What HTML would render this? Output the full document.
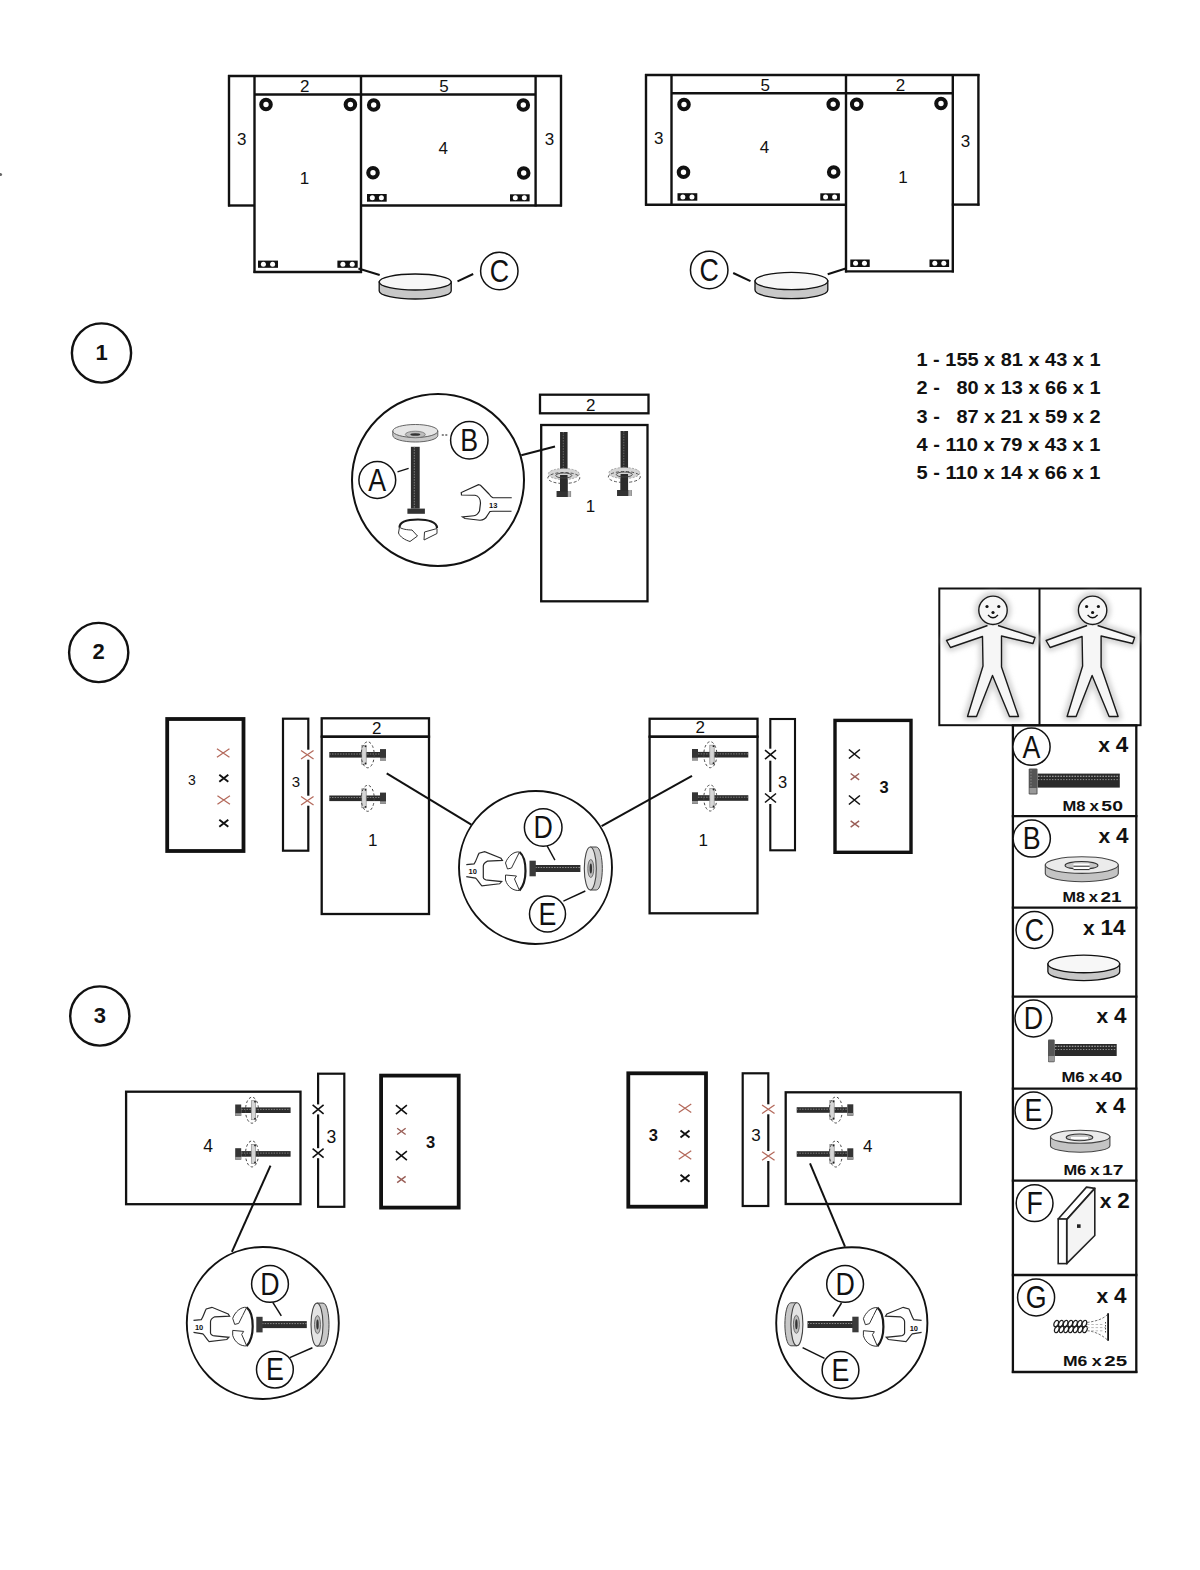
<!DOCTYPE html><html><head><meta charset="utf-8"><style>
html,body{margin:0;padding:0;background:#fff;}
svg{display:block;font-family:"Liberation Sans",sans-serif;}
</style></head><body>
<svg width="1200" height="1570" viewBox="0 0 1200 1570">
<defs><filter id="blur2" x="-20%" y="-20%" width="140%" height="140%"><feGaussianBlur stdDeviation="2.6"/></filter></defs>
<rect width="1200" height="1570" fill="#fff"/>
<circle cx="0.5" cy="174.5" r="1.6" fill="#666"/>
<line x1="228" y1="76" x2="562" y2="76" stroke="#111" stroke-width="2.4" />
<line x1="229" y1="75" x2="229" y2="206.5" stroke="#111" stroke-width="2.4" />
<line x1="228" y1="205.5" x2="255" y2="205.5" stroke="#111" stroke-width="2.4" />
<line x1="254.5" y1="75" x2="254.5" y2="273" stroke="#111" stroke-width="2.4" />
<line x1="254.5" y1="94.5" x2="535.6" y2="94.5" stroke="#111" stroke-width="2.4" />
<line x1="361" y1="75" x2="361" y2="273" stroke="#111" stroke-width="2.4" />
<line x1="253.5" y1="272" x2="362" y2="272" stroke="#111" stroke-width="2.4" />
<line x1="360" y1="205.5" x2="562" y2="205.5" stroke="#111" stroke-width="2.4" />
<line x1="535.6" y1="75" x2="535.6" y2="206.5" stroke="#111" stroke-width="2.4" />
<line x1="561" y1="75" x2="561" y2="206.5" stroke="#111" stroke-width="2.4" />
<text x="241.7" y="144.5" font-size="17" font-weight="normal" text-anchor="middle" fill="#111" >3</text>
<text x="304.7" y="91.5" font-size="17" font-weight="normal" text-anchor="middle" fill="#111" >2</text>
<text x="304.4" y="184" font-size="17" font-weight="normal" text-anchor="middle" fill="#111" >1</text>
<text x="444" y="92" font-size="17" font-weight="normal" text-anchor="middle" fill="#111" >5</text>
<text x="443.3" y="154" font-size="17" font-weight="normal" text-anchor="middle" fill="#111" >4</text>
<text x="549.4" y="145" font-size="17" font-weight="normal" text-anchor="middle" fill="#111" >3</text>
<circle cx="266" cy="104.5" r="4.75" stroke="#111" stroke-width="4.1" fill="#fff"/>
<circle cx="350.4" cy="104.5" r="4.75" stroke="#111" stroke-width="4.1" fill="#fff"/>
<circle cx="373.7" cy="105" r="4.75" stroke="#111" stroke-width="4.1" fill="#fff"/>
<circle cx="373" cy="172.7" r="4.75" stroke="#111" stroke-width="4.1" fill="#fff"/>
<circle cx="523.3" cy="105" r="4.75" stroke="#111" stroke-width="4.1" fill="#fff"/>
<circle cx="523.7" cy="173" r="4.75" stroke="#111" stroke-width="4.1" fill="#fff"/>
<rect x="367" y="194" width="19.70" height="7.70" fill="#111"/>
<circle cx="372.32" cy="197.85" r="2.5" fill="#fff"/>
<circle cx="381.38" cy="197.85" r="2.5" fill="#fff"/>
<rect x="510" y="194.3" width="19.60" height="7.10" fill="#111"/>
<circle cx="515.29" cy="197.85" r="2.5" fill="#fff"/>
<circle cx="524.31" cy="197.85" r="2.5" fill="#fff"/>
<rect x="258" y="260.6" width="20.00" height="7.20" fill="#111"/>
<circle cx="263.40" cy="264.20" r="2.5" fill="#fff"/>
<circle cx="272.60" cy="264.20" r="2.5" fill="#fff"/>
<rect x="337.4" y="260.6" width="20.30" height="7.20" fill="#111"/>
<circle cx="342.88" cy="264.20" r="2.5" fill="#fff"/>
<circle cx="352.22" cy="264.20" r="2.5" fill="#fff"/>
<path d="M379.2,282 L379.2,291 A36,8 0 0 0 451.2,291 L451.2,282 Z" fill="#c8c8c8" stroke="#111" stroke-width="1.3"/>
<ellipse cx="415.2" cy="282" rx="36" ry="8" fill="#f7f7f7" stroke="#111" stroke-width="1.3"/>
<line x1="358.4" y1="268.5" x2="379.7" y2="275" stroke="#111" stroke-width="2" />
<line x1="457.5" y1="281.3" x2="473.2" y2="274" stroke="#111" stroke-width="2" />
<circle cx="499.3" cy="271" r="18.7" stroke="#111" stroke-width="1.5" fill="#fff"/>
<text transform="translate(499.3,281.87) scale(0.85,1)" font-size="31.5" text-anchor="middle" fill="#111">C</text>
<line x1="645" y1="75" x2="979.5" y2="75" stroke="#111" stroke-width="2.4" />
<line x1="646" y1="74" x2="646" y2="205.7" stroke="#111" stroke-width="2.4" />
<line x1="645" y1="204.7" x2="847" y2="204.7" stroke="#111" stroke-width="2.4" />
<line x1="671.5" y1="74" x2="671.5" y2="205.7" stroke="#111" stroke-width="2.4" />
<line x1="671.5" y1="93.3" x2="952.8" y2="93.3" stroke="#111" stroke-width="2.4" />
<line x1="846" y1="74" x2="846" y2="272.5" stroke="#111" stroke-width="2.4" />
<line x1="952.8" y1="74" x2="952.8" y2="272.5" stroke="#111" stroke-width="2.4" />
<line x1="845" y1="271.4" x2="954" y2="271.4" stroke="#111" stroke-width="2.4" />
<line x1="978.4" y1="74" x2="978.4" y2="205.7" stroke="#111" stroke-width="2.4" />
<line x1="951.8" y1="204.6" x2="979.5" y2="204.6" stroke="#111" stroke-width="2.4" />
<text x="658.7" y="144" font-size="17" font-weight="normal" text-anchor="middle" fill="#111" >3</text>
<text x="765.2" y="90.7" font-size="17" font-weight="normal" text-anchor="middle" fill="#111" >5</text>
<text x="764.5" y="153" font-size="17" font-weight="normal" text-anchor="middle" fill="#111" >4</text>
<text x="900.5" y="91.3" font-size="17" font-weight="normal" text-anchor="middle" fill="#111" >2</text>
<text x="903" y="183" font-size="17" font-weight="normal" text-anchor="middle" fill="#111" >1</text>
<text x="965.5" y="146.7" font-size="17" font-weight="normal" text-anchor="middle" fill="#111" >3</text>
<circle cx="684" cy="104.5" r="4.75" stroke="#111" stroke-width="4.1" fill="#fff"/>
<circle cx="683.5" cy="172.2" r="4.75" stroke="#111" stroke-width="4.1" fill="#fff"/>
<circle cx="833.2" cy="104.3" r="4.75" stroke="#111" stroke-width="4.1" fill="#fff"/>
<circle cx="833.7" cy="172" r="4.75" stroke="#111" stroke-width="4.1" fill="#fff"/>
<circle cx="856.7" cy="104.3" r="4.75" stroke="#111" stroke-width="4.1" fill="#fff"/>
<circle cx="941" cy="103.5" r="4.75" stroke="#111" stroke-width="4.1" fill="#fff"/>
<rect x="677.5" y="193.2" width="19.80" height="7.50" fill="#111"/>
<circle cx="682.85" cy="196.95" r="2.5" fill="#fff"/>
<circle cx="691.95" cy="196.95" r="2.5" fill="#fff"/>
<rect x="820.3" y="193.3" width="19.60" height="7.30" fill="#111"/>
<circle cx="825.59" cy="196.95" r="2.5" fill="#fff"/>
<circle cx="834.61" cy="196.95" r="2.5" fill="#fff"/>
<rect x="850.3" y="259.5" width="19.40" height="7.50" fill="#111"/>
<circle cx="855.54" cy="263.25" r="2.5" fill="#fff"/>
<circle cx="864.46" cy="263.25" r="2.5" fill="#fff"/>
<rect x="929.5" y="259.5" width="19.60" height="7.50" fill="#111"/>
<circle cx="934.79" cy="263.25" r="2.5" fill="#fff"/>
<circle cx="943.81" cy="263.25" r="2.5" fill="#fff"/>
<path d="M755.0,281 L755.0,290 A36.4,8.6 0 0 0 827.8,290 L827.8,281 Z" fill="#c8c8c8" stroke="#111" stroke-width="1.3"/>
<ellipse cx="791.4" cy="281" rx="36.4" ry="8.6" fill="#f7f7f7" stroke="#111" stroke-width="1.3"/>
<line x1="733.2" y1="273" x2="750.5" y2="281.2" stroke="#111" stroke-width="2" />
<line x1="827.7" y1="274.2" x2="845.7" y2="268.5" stroke="#111" stroke-width="2" />
<circle cx="709.2" cy="270" r="18.75" stroke="#111" stroke-width="1.5" fill="#fff"/>
<text transform="translate(709.2,280.87) scale(0.85,1)" font-size="31.5" text-anchor="middle" fill="#111">C</text>
<circle cx="101.5" cy="353" r="29.6" stroke="#111" stroke-width="2.4" fill="#fff"/>
<text x="101.5" y="359.8" font-size="22" font-weight="bold" text-anchor="middle" fill="#111" >1</text>
<circle cx="98.7" cy="652.5" r="29.6" stroke="#111" stroke-width="2.4" fill="#fff"/>
<text x="98.7" y="659.3" font-size="22" font-weight="bold" text-anchor="middle" fill="#111" >2</text>
<circle cx="99.8" cy="1016" r="29.6" stroke="#111" stroke-width="2.4" fill="#fff"/>
<text x="99.8" y="1022.8" font-size="22" font-weight="bold" text-anchor="middle" fill="#111" >3</text>
<text x="916.5" y="365.7" font-size="17.5" font-weight="bold" fill="#111" xml:space="preserve" textLength="184" lengthAdjust="spacingAndGlyphs">1 - 155 x 81 x 43 x 1</text>
<text x="916.5" y="394.1" font-size="17.5" font-weight="bold" fill="#111" xml:space="preserve" textLength="184" lengthAdjust="spacingAndGlyphs">2 -   80 x 13 x 66 x 1</text>
<text x="916.5" y="422.5" font-size="17.5" font-weight="bold" fill="#111" xml:space="preserve" textLength="184" lengthAdjust="spacingAndGlyphs">3 -   87 x 21 x 59 x 2</text>
<text x="916.5" y="450.9" font-size="17.5" font-weight="bold" fill="#111" xml:space="preserve" textLength="184" lengthAdjust="spacingAndGlyphs">4 - 110 x 79 x 43 x 1</text>
<text x="916.5" y="479.3" font-size="17.5" font-weight="bold" fill="#111" xml:space="preserve" textLength="184" lengthAdjust="spacingAndGlyphs">5 - 110 x 14 x 66 x 1</text>
<circle cx="438" cy="480" r="86" stroke="#111" stroke-width="2" fill="#fff"/>
<rect x="540" y="394.7" width="108.50" height="18.60" stroke="#111" stroke-width="2.3" fill="none"/>
<rect x="541.2" y="425" width="106.30" height="176.30" stroke="#111" stroke-width="2.3" fill="none"/>
<text x="590.7" y="410.8" font-size="17" font-weight="normal" text-anchor="middle" fill="#111" >2</text>
<text x="590.5" y="511.5" font-size="17" font-weight="normal" text-anchor="middle" fill="#111" >1</text>
<line x1="521.3" y1="455.2" x2="555" y2="446.5" stroke="#111" stroke-width="2" />
<rect x="560.05" y="432" width="7.5" height="64.5" fill="#2b2b2b"/>
<line x1="563.3" y1="432" x2="563.3" y2="496.5" stroke="#777" stroke-width="0.8" stroke-dasharray="1.5 1.2"/>
<rect x="556.55" y="491.0" width="14.5" height="6" fill="#333"/>
<rect x="567.8" y="491.0" width="3" height="6" fill="#aaa"/>
<ellipse cx="563.8" cy="474" rx="15.5" ry="5.5" fill="#d5d5d5" stroke="#888" stroke-width="0.7" stroke-dasharray="2 1.5"/>
<ellipse cx="563.8" cy="478" rx="16" ry="5.5" fill="none" stroke="#444" stroke-width="0.9" stroke-dasharray="3 2"/>
<rect x="560.05" y="475" width="7.5" height="16.5" fill="#2b2b2b"/>
<ellipse cx="563.8" cy="475.5" rx="8" ry="2.5" fill="none" stroke="#444" stroke-width="0.9"/>
<rect x="620.55" y="431" width="7.5" height="64.5" fill="#2b2b2b"/>
<line x1="623.8" y1="431" x2="623.8" y2="495.5" stroke="#777" stroke-width="0.8" stroke-dasharray="1.5 1.2"/>
<rect x="617.05" y="490.0" width="14.5" height="6" fill="#333"/>
<rect x="628.3" y="490.0" width="3" height="6" fill="#aaa"/>
<ellipse cx="624.3" cy="473" rx="15.5" ry="5.5" fill="#d5d5d5" stroke="#888" stroke-width="0.7" stroke-dasharray="2 1.5"/>
<ellipse cx="624.3" cy="477" rx="16" ry="5.5" fill="none" stroke="#444" stroke-width="0.9" stroke-dasharray="3 2"/>
<rect x="620.55" y="474" width="7.5" height="16.5" fill="#2b2b2b"/>
<ellipse cx="624.3" cy="474.5" rx="8" ry="2.5" fill="none" stroke="#444" stroke-width="0.9"/>
<path d="M392.8,431 L392.8,435.5 A22.5,6.5 0 0 0 437.8,435.5 L437.8,431 Z" fill="#c9c9c9" stroke="#555" stroke-width="0.9"/>
<ellipse cx="415.3" cy="431" rx="22.5" ry="6.5" fill="#e6e6e6" stroke="#555" stroke-width="0.9"/>
<ellipse cx="415.3" cy="434.5" rx="10" ry="3.3" fill="#bdbdbd" stroke="#666" stroke-width="0.7"/>
<ellipse cx="415.3" cy="434.5" rx="5" ry="1.3" fill="#333"/>
<line x1="441.8" y1="435" x2="448.8" y2="435" stroke="#111" stroke-width="1.2" stroke-dasharray="2 1.5"/>
<circle cx="469.3" cy="440.3" r="18.7" stroke="#111" stroke-width="1.5" fill="#fff"/>
<text transform="translate(469.3,451.17) scale(0.85,1)" font-size="31.5" text-anchor="middle" fill="#111">B</text>
<rect x="410.9" y="446.8" width="8.8" height="61.8" fill="#2e2e2e"/>
<line x1="414.3" y1="446.8" x2="414.3" y2="508.6" stroke="#888" stroke-width="0.9" stroke-dasharray="1.5 1.2"/>
<rect x="407.4" y="508.6" width="17.5" height="5.2" fill="#333"/>
<circle cx="377.3" cy="480" r="18.4" stroke="#111" stroke-width="1.5" fill="#fff"/>
<text transform="translate(377.3,490.87) scale(0.85,1)" font-size="31.5" text-anchor="middle" fill="#111">A</text>
<line x1="397.5" y1="471.8" x2="408.6" y2="468.3" stroke="#111" stroke-width="1.3" />
<path d="M399.5,527.5 C399.5,521 409,519.5 418,519.5 C428,519.5 437,522 437,528" fill="none" stroke="#1a1a1a" stroke-width="2.2"/>
<path d="M399.5,527 L398.5,533 C400,537 405,540 410,541.5 L417.5,536 L412,530 C407,530 402,529 400,527.5" fill="#fff" stroke="#333" stroke-width="1"/>
<path d="M424.5,532 L437,528.5 L437,533.5 L424,540 Z" fill="#fff" stroke="#333" stroke-width="1"/>
<path transform="translate(0,0)" d="M511.75,497.75 L493,497.75 C491,497 490,495.5 489,494 L480.5,485.25 L478.5,484.75 L461.25,492.5 L461.5,495 L475,495.25 C479,496 480.5,500 480.5,503 L479.5,511 C478,514 476,515.5 474,515.75 L462.5,517 L465,518.5 L480,520.25 C484,520 486,518 487,516 L490,511.5 C491,511.3 492,511.25 493,511.25 L511.5,511.25" fill="none" stroke="#222" stroke-width="1.2"/>
<text x="493.2" y="507.6" font-size="7.5" font-weight="bold" text-anchor="middle" fill="#111" >13</text>
<rect x="939.3" y="588.5" width="201.30" height="136.70" stroke="#111" stroke-width="2" fill="none"/>
<line x1="1039.5" y1="588.5" x2="1039.5" y2="725.2" stroke="#111" stroke-width="2" />
<g filter="url(#blur2)"><path d="M987.5,625.5 L946.5,640.5 L950.5,647.5 L982.5,636.5 L983.0,666.0 L967.5,716.5 L976.5,716.5 L992.5,675.5 L1009.5,716.5 L1018.5,716.5 L1001.5,667.0 L1001.5,636.0 L1033.0,643.5 L1035.0,637.5 L998.0,625.5" fill="none" stroke="#d4d4d4" stroke-width="8" stroke-linejoin="round"/><circle cx="993" cy="610.3" r="14.2" fill="none" stroke="#d4d4d4" stroke-width="8"/></g>
<path d="M987.5,625.5 L946.5,640.5 L950.5,647.5 L982.5,636.5 L983.0,666.0 L967.5,716.5 L976.5,716.5 L992.5,675.5 L1009.5,716.5 L1018.5,716.5 L1001.5,667.0 L1001.5,636.0 L1033.0,643.5 L1035.0,637.5 L998.0,625.5" fill="#f6f6f6" stroke="#1a1a1a" stroke-width="1.4" stroke-linejoin="round"/>
<circle cx="993" cy="610.3" r="14.2" fill="#f6f6f6" stroke="#1a1a1a" stroke-width="1.4"/>
<circle cx="987" cy="606.5" r="1.6" fill="#111"/><circle cx="998.8" cy="606.5" r="1.6" fill="#111"/><circle cx="993" cy="612.5" r="1.6" fill="#111"/>
<path d="M988,615 Q993,620.5 998,615" fill="none" stroke="#111" stroke-width="1.3"/>
<g filter="url(#blur2)"><path d="M1087.1,625.5 L1046.1,640.5 L1050.1,647.5 L1082.1,636.5 L1082.6,666.0 L1067.1,716.5 L1076.1,716.5 L1092.1,675.5 L1109.1,716.5 L1118.1,716.5 L1101.1,667.0 L1101.1,636.0 L1132.6,643.5 L1134.6,637.5 L1097.6,625.5" fill="none" stroke="#d4d4d4" stroke-width="8" stroke-linejoin="round"/><circle cx="1092.6" cy="610.3" r="14.2" fill="none" stroke="#d4d4d4" stroke-width="8"/></g>
<path d="M1087.1,625.5 L1046.1,640.5 L1050.1,647.5 L1082.1,636.5 L1082.6,666.0 L1067.1,716.5 L1076.1,716.5 L1092.1,675.5 L1109.1,716.5 L1118.1,716.5 L1101.1,667.0 L1101.1,636.0 L1132.6,643.5 L1134.6,637.5 L1097.6,625.5" fill="#f6f6f6" stroke="#1a1a1a" stroke-width="1.4" stroke-linejoin="round"/>
<circle cx="1092.6" cy="610.3" r="14.2" fill="#f6f6f6" stroke="#1a1a1a" stroke-width="1.4"/>
<circle cx="1086.6" cy="606.5" r="1.6" fill="#111"/><circle cx="1098.3999999999999" cy="606.5" r="1.6" fill="#111"/><circle cx="1092.6" cy="612.5" r="1.6" fill="#111"/>
<path d="M1087.6,615 Q1092.6,620.5 1097.6,615" fill="none" stroke="#111" stroke-width="1.3"/>
<line x1="1011.8" y1="725.4" x2="1137.3999999999999" y2="725.4" stroke="#111" stroke-width="2.3" />
<line x1="1011.8" y1="816.2" x2="1137.3999999999999" y2="816.2" stroke="#111" stroke-width="2.3" />
<line x1="1011.8" y1="907.6" x2="1137.3999999999999" y2="907.6" stroke="#111" stroke-width="2.3" />
<line x1="1011.8" y1="996.7" x2="1137.3999999999999" y2="996.7" stroke="#111" stroke-width="2.3" />
<line x1="1011.8" y1="1088.6" x2="1137.3999999999999" y2="1088.6" stroke="#111" stroke-width="2.3" />
<line x1="1011.8" y1="1180.7" x2="1137.3999999999999" y2="1180.7" stroke="#111" stroke-width="2.3" />
<line x1="1011.8" y1="1275" x2="1137.3999999999999" y2="1275" stroke="#111" stroke-width="2.3" />
<line x1="1011.8" y1="1372" x2="1137.3999999999999" y2="1372" stroke="#111" stroke-width="2.3" />
<line x1="1012.9" y1="725" x2="1012.9" y2="1373" stroke="#111" stroke-width="2.3" />
<line x1="1136.3" y1="725" x2="1136.3" y2="1373" stroke="#111" stroke-width="2.3" />
<circle cx="1031.5" cy="746.7" r="18.6" stroke="#111" stroke-width="1.5" fill="#fff"/>
<text transform="translate(1031.5,757.57) scale(0.85,1)" font-size="31.5" text-anchor="middle" fill="#111">A</text>
<text x="1128.2" y="752.2" font-weight="bold" text-anchor="end" fill="#111" xml:space="preserve"><tspan font-size="21">x </tspan><tspan font-size="22.5">4</tspan></text>
<rect x="1037.5" y="773.6" width="82.3" height="14" fill="#2a2a2a"/>
<line x1="1038" y1="776.3" x2="1119.5" y2="776.3" stroke="#bbb" stroke-width="1.1" stroke-dasharray="1.6 1.2"/>
<line x1="1038" y1="779.6" x2="1119.5" y2="779.6" stroke="#999" stroke-width="0.9" stroke-dasharray="1.4 1.4"/>
<rect x="1028.7" y="768.4" width="8.8" height="26" rx="1.2" fill="#555"/>
<rect x="1029.5" y="788" width="7" height="5.5" fill="#999"/>
<line x1="1031" y1="770" x2="1031" y2="787" stroke="#888" stroke-width="1" stroke-dasharray="1.5 1.5"/>
<text x="1062.40" y="810.6" font-size="14" font-weight="bold" fill="#111" textLength="23.02" lengthAdjust="spacingAndGlyphs">M8</text>
<text x="1089.48" y="810.6" font-size="14" font-weight="bold" fill="#111" textLength="9.42" lengthAdjust="spacingAndGlyphs">x</text>
<text x="1101.36" y="810.6" font-size="14" font-weight="bold" fill="#111" textLength="21.54" lengthAdjust="spacingAndGlyphs">50</text>
<circle cx="1031.75" cy="838.5" r="18.6" stroke="#111" stroke-width="1.5" fill="#fff"/>
<text transform="translate(1031.75,849.37) scale(0.85,1)" font-size="31.5" text-anchor="middle" fill="#111">B</text>
<text x="1128.6" y="843.3" font-weight="bold" text-anchor="end" fill="#111" xml:space="preserve"><tspan font-size="21">x </tspan><tspan font-size="22.5">4</tspan></text>
<path d="M1045.3,865.1 L1045.3,873.4 A36.5,8.3 0 0 0 1118.3,873.4 L1118.3,865.1 Z" fill="#c4c4c4" stroke="#444" stroke-width="1.1"/>
<ellipse cx="1081.8" cy="865.1" rx="36.5" ry="8.3" fill="#ebebeb" stroke="#444" stroke-width="1.1"/>
<ellipse cx="1081.5" cy="865.4" rx="16.4" ry="3.9" fill="#c6c6c6" stroke="#333" stroke-width="1.1"/>
<rect x="1073.5" y="863.5" width="16" height="6.5" fill="#fff"/>
<line x1="1073.5" y1="866.2" x2="1089.6" y2="866.2" stroke="#222" stroke-width="1"/><line x1="1073.5" y1="869.6" x2="1089.6" y2="869.6" stroke="#222" stroke-width="1"/>
<text x="1062.40" y="901.6" font-size="14" font-weight="bold" fill="#111" textLength="22.54" lengthAdjust="spacingAndGlyphs">M8</text>
<text x="1088.89" y="901.6" font-size="14" font-weight="bold" fill="#111" textLength="9.24" lengthAdjust="spacingAndGlyphs">x</text>
<text x="1100.51" y="901.6" font-size="14" font-weight="bold" fill="#111" textLength="21.09" lengthAdjust="spacingAndGlyphs">21</text>
<circle cx="1034.4" cy="930" r="18.4" stroke="#111" stroke-width="1.5" fill="#fff"/>
<text transform="translate(1034.4,940.87) scale(0.85,1)" font-size="31.5" text-anchor="middle" fill="#111">C</text>
<text x="1125.6" y="935.2" font-weight="bold" text-anchor="end" fill="#111" xml:space="preserve"><tspan font-size="21">x </tspan><tspan font-size="22.5">14</tspan></text>
<path d="M1047.8999999999999,963.9 L1047.8999999999999,971.6999999999999 A35.9,8.85 0 0 0 1119.7,971.6999999999999 L1119.7,963.9 Z" fill="#c8c8c8" stroke="#111" stroke-width="1.3"/>
<ellipse cx="1083.8" cy="963.9" rx="35.9" ry="8.85" fill="#f7f7f7" stroke="#111" stroke-width="1.3"/>
<circle cx="1033.5" cy="1018.5" r="18.5" stroke="#111" stroke-width="1.5" fill="#fff"/>
<text transform="translate(1033.5,1029.37) scale(0.85,1)" font-size="31.5" text-anchor="middle" fill="#111">D</text>
<text x="1126.6" y="1023.25" font-weight="bold" text-anchor="end" fill="#111" xml:space="preserve"><tspan font-size="21">x </tspan><tspan font-size="22.5">4</tspan></text>
<rect x="1054.5" y="1044" width="62.2" height="12" fill="#2a2a2a"/>
<line x1="1055" y1="1046.3" x2="1116.5" y2="1046.3" stroke="#bbb" stroke-width="1.1" stroke-dasharray="1.6 1.2"/>
<line x1="1055" y1="1049.5" x2="1116.5" y2="1049.5" stroke="#999" stroke-width="0.9" stroke-dasharray="1.4 1.4"/>
<rect x="1048" y="1039.4" width="6.7" height="22.9" rx="1" fill="#555"/>
<rect x="1048.5" y="1056" width="5.8" height="5.5" fill="#999"/>
<text x="1061.40" y="1082.1" font-size="14" font-weight="bold" fill="#111" textLength="23.24" lengthAdjust="spacingAndGlyphs">M6</text>
<text x="1088.75" y="1082.1" font-size="14" font-weight="bold" fill="#111" textLength="9.51" lengthAdjust="spacingAndGlyphs">x</text>
<text x="1100.75" y="1082.1" font-size="14" font-weight="bold" fill="#111" textLength="21.75" lengthAdjust="spacingAndGlyphs">40</text>
<circle cx="1033.5" cy="1110.5" r="18.5" stroke="#111" stroke-width="1.5" fill="#fff"/>
<text transform="translate(1033.5,1121.37) scale(0.85,1)" font-size="31.5" text-anchor="middle" fill="#111">E</text>
<text x="1125.5" y="1113.1" font-weight="bold" text-anchor="end" fill="#111" xml:space="preserve"><tspan font-size="21">x </tspan><tspan font-size="22.5">4</tspan></text>
<path d="M1050.5,1136.8 L1050.5,1145.7 A29.7,6.5 0 0 0 1109.9,1145.7 L1109.9,1136.8 Z" fill="#c4c4c4" stroke="#444" stroke-width="1.1"/>
<ellipse cx="1080.2" cy="1136.8" rx="29.7" ry="6.5" fill="#ebebeb" stroke="#444" stroke-width="1.1"/>
<ellipse cx="1079.5" cy="1137.4" rx="13.3" ry="3.4" fill="#c6c6c6" stroke="#333" stroke-width="1.1"/>
<rect x="1071" y="1137" width="17" height="2" fill="#fff"/>
<text x="1063.40" y="1175.1" font-size="14" font-weight="bold" fill="#111" textLength="22.88" lengthAdjust="spacingAndGlyphs">M6</text>
<text x="1090.30" y="1175.1" font-size="14" font-weight="bold" fill="#111" textLength="9.36" lengthAdjust="spacingAndGlyphs">x</text>
<text x="1102.10" y="1175.1" font-size="14" font-weight="bold" fill="#111" textLength="21.40" lengthAdjust="spacingAndGlyphs">17</text>
<circle cx="1034.6" cy="1203.2" r="18.4" stroke="#111" stroke-width="1.5" fill="#fff"/>
<text transform="translate(1034.6,1214.07) scale(0.85,1)" font-size="31.5" text-anchor="middle" fill="#111">F</text>
<text x="1129.8" y="1208.1" font-weight="bold" text-anchor="end" fill="#111" xml:space="preserve"><tspan font-size="21">x </tspan><tspan font-size="22.5">2</tspan></text>
<path d="M1058.2,1219 L1086.5,1187.1 L1094.8,1188.4 L1066.7,1219.6 Z" fill="#fff" stroke="#222" stroke-width="1.6" stroke-linejoin="round"/>
<path d="M1066.7,1219.6 L1094.8,1188.4 L1094.8,1235.5 L1066.7,1263.6 Z" fill="#f4f4f4" stroke="#222" stroke-width="1.6" stroke-linejoin="round"/>
<rect x="1058.2" y="1219" width="8.5" height="44.6" fill="#fff" stroke="#222" stroke-width="1.6"/>
<rect x="1077" y="1224.3" width="3.6" height="3.6" fill="#222"/>
<circle cx="1036.1" cy="1297.4" r="18.5" stroke="#111" stroke-width="1.5" fill="#fff"/>
<text transform="translate(1036.1,1308.27) scale(0.85,1)" font-size="31.5" text-anchor="middle" fill="#111">G</text>
<text x="1126.6" y="1302.5" font-weight="bold" text-anchor="end" fill="#111" xml:space="preserve"><tspan font-size="21">x </tspan><tspan font-size="22.5">4</tspan></text>
<ellipse transform="translate(1056.20,1323.6) rotate(25)" cx="0" cy="0" rx="2.1" ry="3.4" fill="none" stroke="#1e1e1e" stroke-width="1.3"/>
<ellipse transform="translate(1060.90,1323.6) rotate(25)" cx="0" cy="0" rx="2.1" ry="3.4" fill="none" stroke="#1e1e1e" stroke-width="1.3"/>
<ellipse transform="translate(1065.60,1323.6) rotate(25)" cx="0" cy="0" rx="2.1" ry="3.4" fill="none" stroke="#1e1e1e" stroke-width="1.3"/>
<ellipse transform="translate(1070.30,1323.6) rotate(25)" cx="0" cy="0" rx="2.1" ry="3.4" fill="none" stroke="#1e1e1e" stroke-width="1.3"/>
<ellipse transform="translate(1075.00,1323.6) rotate(25)" cx="0" cy="0" rx="2.1" ry="3.4" fill="none" stroke="#1e1e1e" stroke-width="1.3"/>
<ellipse transform="translate(1079.70,1323.6) rotate(25)" cx="0" cy="0" rx="2.1" ry="3.4" fill="none" stroke="#1e1e1e" stroke-width="1.3"/>
<ellipse transform="translate(1084.40,1323.6) rotate(25)" cx="0" cy="0" rx="2.1" ry="3.4" fill="none" stroke="#1e1e1e" stroke-width="1.3"/>
<ellipse transform="translate(1056.80,1329.4) rotate(25)" cx="0" cy="0" rx="2.1" ry="3.4" fill="none" stroke="#1e1e1e" stroke-width="1.3"/>
<ellipse transform="translate(1061.50,1329.4) rotate(25)" cx="0" cy="0" rx="2.1" ry="3.4" fill="none" stroke="#1e1e1e" stroke-width="1.3"/>
<ellipse transform="translate(1066.20,1329.4) rotate(25)" cx="0" cy="0" rx="2.1" ry="3.4" fill="none" stroke="#1e1e1e" stroke-width="1.3"/>
<ellipse transform="translate(1070.90,1329.4) rotate(25)" cx="0" cy="0" rx="2.1" ry="3.4" fill="none" stroke="#1e1e1e" stroke-width="1.3"/>
<ellipse transform="translate(1075.60,1329.4) rotate(25)" cx="0" cy="0" rx="2.1" ry="3.4" fill="none" stroke="#1e1e1e" stroke-width="1.3"/>
<ellipse transform="translate(1080.30,1329.4) rotate(25)" cx="0" cy="0" rx="2.1" ry="3.4" fill="none" stroke="#1e1e1e" stroke-width="1.3"/>
<ellipse transform="translate(1085.00,1329.4) rotate(25)" cx="0" cy="0" rx="2.1" ry="3.4" fill="none" stroke="#1e1e1e" stroke-width="1.3"/>
<path d="M1087,1322.5 C1097,1321 1103,1319 1107.5,1314.5 M1087,1330.5 C1097,1332 1103,1336 1107.5,1340" stroke="#666" stroke-width="0.9" stroke-dasharray="2.5 1.5" fill="none"/>
<path d="M1087,1324.5 L1103,1324.5 M1087,1327.6 L1106,1327.6 M1087,1330.8 L1103,1330.8" stroke="#aaa" stroke-width="0.8" stroke-dasharray="2.5 1.8" fill="none"/>
<path d="M1105.5,1322 L1105.5,1334" stroke="#555" stroke-width="1" stroke-dasharray="1.5 1.5" fill="none"/>
<line x1="1108.1" y1="1313.3" x2="1108.1" y2="1340.7" stroke="#111" stroke-width="1.8" />
<text x="1062.90" y="1365.5" font-size="15" font-weight="bold" fill="#111" textLength="24.42" lengthAdjust="spacingAndGlyphs">M6</text>
<text x="1091.71" y="1365.5" font-size="15" font-weight="bold" fill="#111" textLength="9.96" lengthAdjust="spacingAndGlyphs">x</text>
<text x="1104.36" y="1365.5" font-size="15" font-weight="bold" fill="#111" textLength="22.84" lengthAdjust="spacingAndGlyphs">25</text>
<rect x="167.2" y="719" width="76.30" height="132.00" stroke="#111" stroke-width="3.8" fill="none"/>
<rect x="283" y="718.7" width="25.30" height="132.00" stroke="#111" stroke-width="2.2" fill="none"/>
<rect x="321.7" y="718.3" width="107.30" height="18.40" stroke="#111" stroke-width="2.3" fill="none"/>
<rect x="321.7" y="736.7" width="107.30" height="177.30" stroke="#111" stroke-width="2.3" fill="none"/>
<text x="192" y="785" font-size="14" font-weight="normal" text-anchor="middle" fill="#111" >3</text>
<text x="296" y="786.5" font-size="15" font-weight="normal" text-anchor="middle" fill="#111" >3</text>
<text x="376.7" y="734" font-size="17" font-weight="normal" text-anchor="middle" fill="#111" >2</text>
<text x="372.7" y="846" font-size="17" font-weight="normal" text-anchor="middle" fill="#111" >1</text>
<path d="M216.95,748.75 L229.45,757.25 M216.95,757.25 L229.45,748.75" stroke="#b46a5c" stroke-width="1.3" fill="none"/>
<path d="M219.3,774.8 L228.3,781.8 M219.3,781.8 L228.3,774.8" stroke="#111" stroke-width="1.9" fill="none"/>
<path d="M217.45,795.75 L229.95,804.25 M217.45,804.25 L229.95,795.75" stroke="#b46a5c" stroke-width="1.3" fill="none"/>
<path d="M219.3,819.8 L228.3,826.8 M219.3,826.8 L228.3,819.8" stroke="#111" stroke-width="1.9" fill="none"/>
<rect x="305.5" y="749.7" width="5" height="10" fill="#fff"/>
<path d="M301.05,750.45 L313.55,758.95 M301.05,758.95 L313.55,750.45" stroke="#b46a5c" stroke-width="1.3" fill="none"/>
<rect x="305.5" y="795.7" width="5" height="10" fill="#fff"/>
<path d="M301.05,796.45 L313.55,804.95 M301.05,804.95 L313.55,796.45" stroke="#b46a5c" stroke-width="1.3" fill="none"/>
<rect x="329.3" y="752.0" width="50.69999999999999" height="5.6" fill="#2b2b2b"/>
<line x1="329.3" y1="754.0" x2="380" y2="754.0" stroke="#8a8a8a" stroke-width="0.9" stroke-dasharray="1.5 1.2"/>
<rect x="380" y="749.0999999999999" width="6" height="11.4" fill="#353535"/>
<rect x="380" y="757.8" width="6" height="2.6" fill="#999"/>
<rect x="361.8" y="745.3" width="4.4" height="19" fill="#d6d6d6" stroke="#8a8a8a" stroke-width="0.7"/>
<ellipse cx="367.7" cy="754.8" rx="6.5" ry="13" fill="none" stroke="#444" stroke-width="1" stroke-dasharray="2.6 2.2"/>
<circle cx="365.5" cy="746.3" r="0.9" fill="#222"/><circle cx="365.5" cy="763.3" r="0.9" fill="#222"/>
<rect x="329.3" y="795.5" width="50.69999999999999" height="5.6" fill="#2b2b2b"/>
<line x1="329.3" y1="797.5" x2="380" y2="797.5" stroke="#8a8a8a" stroke-width="0.9" stroke-dasharray="1.5 1.2"/>
<rect x="380" y="792.5999999999999" width="6" height="11.4" fill="#353535"/>
<rect x="380" y="801.3" width="6" height="2.6" fill="#999"/>
<rect x="361.8" y="788.8" width="4.4" height="19" fill="#d6d6d6" stroke="#8a8a8a" stroke-width="0.7"/>
<ellipse cx="367.7" cy="798.3" rx="6.5" ry="13" fill="none" stroke="#444" stroke-width="1" stroke-dasharray="2.6 2.2"/>
<circle cx="365.5" cy="789.8" r="0.9" fill="#222"/><circle cx="365.5" cy="806.8" r="0.9" fill="#222"/>
<line x1="386.7" y1="773.3" x2="471.3" y2="824.7" stroke="#111" stroke-width="2" />
<line x1="601.6" y1="826.1" x2="692" y2="775.8" stroke="#111" stroke-width="2" />
<circle cx="535.5" cy="867.5" r="76.5" stroke="#111" stroke-width="1.9" fill="#fff"/>
<circle cx="543.2" cy="827.5" r="18.8" stroke="#111" stroke-width="1.5" fill="#fff"/>
<text transform="translate(543.2,838.37) scale(0.85,1)" font-size="31.5" text-anchor="middle" fill="#111">D</text>
<circle cx="547.5" cy="914" r="18" stroke="#111" stroke-width="1.5" fill="#fff"/>
<text transform="translate(547.5,924.87) scale(0.85,1)" font-size="31.5" text-anchor="middle" fill="#111">E</text>
<line x1="547.1" y1="845.9" x2="554.9" y2="860.1" stroke="#111" stroke-width="1.4" />
<line x1="563.4" y1="901.2" x2="585.3" y2="891" stroke="#111" stroke-width="1.4" />
<rect x="532.5" y="865.0" width="47.89999999999998" height="7" fill="#2e2e2e"/>
<line x1="532.5" y1="867.5" x2="580.4" y2="867.5" stroke="#999" stroke-width="0.9" stroke-dasharray="1.5 1.2"/>
<rect x="529.5" y="860.7" width="6.3" height="15.6" fill="#3a3a3a"/>
<g transform="translate(590.3,868.5)"><path d="M0,-21.5 L6,-21.5 C10,-21.5 12,-10 12,0 C12,10 10,21.5 6,21.5 L0,21.5 Z" fill="#c8c8c8" stroke="#444" stroke-width="1"/><ellipse cx="0" cy="0" rx="6" ry="21.5" fill="#e4e4e4" stroke="#444" stroke-width="1.1"/><ellipse cx="0.5" cy="0" rx="3" ry="9" fill="#bbb" stroke="#555" stroke-width="0.8"/><ellipse cx="0.5" cy="0" rx="1.2" ry="5" fill="#333"/></g>
<g transform="translate(515.5,871)"><path d="M4,-19 C9,-15 10,-6 10,0 C10,7 8,15 4,19.5" fill="none" stroke="#1a1a1a" stroke-width="2.2"/><path d="M4,-19 C-2,-20 -8,-14 -10,-8 L-8,-2 L-4,-3 L0,-11 Z" fill="#fff" stroke="#333" stroke-width="1"/><path d="M-10,4 L1,5 L-1,8 L4,19.5 C-2,20 -8,16 -10,9 Z" fill="#fff" stroke="#333" stroke-width="1"/></g>
<path transform="translate(492.5,870.6)" d="M-26.2,-5.9 L-18.4,-6.7 C-16,-10 -15,-15 -13.5,-17.3 L-7.8,-19 L8.5,-12.3 L9.9,-10.2 L-5,-9.5 C-8,-8 -9.2,-6 -9.2,-4.5 L-9.2,6.8 C-9.2,8 -7,9.6 -5,9.6 L9.2,11 L7.1,13.2 L-10.6,15.3 C-13,13 -15,9 -17,7.5 L-26.2,6" fill="#fff" stroke="#2a2a2a" stroke-width="1.2"/>
<text x="472.7" y="873.5" font-size="7.5" font-weight="bold" text-anchor="middle" fill="#111" >10</text>
<rect x="649.6" y="718.75" width="107.90" height="17.95" stroke="#111" stroke-width="2.3" fill="none"/>
<rect x="649.6" y="736.7" width="107.90" height="176.60" stroke="#111" stroke-width="2.3" fill="none"/>
<text x="700.3" y="733.3" font-size="17" font-weight="normal" text-anchor="middle" fill="#111" >2</text>
<text x="703.3" y="846" font-size="17" font-weight="normal" text-anchor="middle" fill="#111" >1</text>
<rect x="770.3" y="719" width="24.70" height="131.30" stroke="#111" stroke-width="2.1" fill="none"/>
<text x="782.7" y="788" font-size="16.5" font-weight="normal" text-anchor="middle" fill="#111" >3</text>
<rect x="766" y="748.7" width="8" height="12" fill="#fff"/>
<path d="M765.0,750.2 L776.0,759.2 M765.0,759.2 L776.0,750.2" stroke="#111" stroke-width="1.6" fill="none"/>
<rect x="766" y="792" width="8" height="12" fill="#fff"/>
<path d="M765.0,793.5 L776.0,802.5 M765.0,802.5 L776.0,793.5" stroke="#111" stroke-width="1.6" fill="none"/>
<rect x="835" y="720.4" width="76.00" height="131.90" stroke="#111" stroke-width="3.4" fill="none"/>
<text x="884" y="792.5" font-size="16.5" font-weight="bold" text-anchor="middle" fill="#111" >3</text>
<path d="M848.9,749.5 L859.9,758.5 M848.9,758.5 L859.9,749.5" stroke="#111" stroke-width="1.6" fill="none"/>
<path d="M850.65,773.5500000000001 L859.15,779.85 M850.65,779.85 L859.15,773.5500000000001" stroke="#9a5f58" stroke-width="1.4" fill="none"/>
<path d="M848.9,795.5 L859.9,804.5 M848.9,804.5 L859.9,795.5" stroke="#111" stroke-width="1.6" fill="none"/>
<path d="M850.65,820.85 L859.15,827.15 M850.65,827.15 L859.15,820.85" stroke="#9a5f58" stroke-width="1.4" fill="none"/>
<rect x="698" y="751.9000000000001" width="50.299999999999955" height="5.6" fill="#2b2b2b"/>
<line x1="698" y1="753.9000000000001" x2="748.3" y2="753.9000000000001" stroke="#8a8a8a" stroke-width="0.9" stroke-dasharray="1.5 1.2"/>
<rect x="692" y="749.0" width="6" height="11.4" fill="#353535"/>
<rect x="692" y="757.7" width="6" height="2.6" fill="#999"/>
<rect x="709.8" y="745.2" width="4.4" height="19" fill="#d6d6d6" stroke="#8a8a8a" stroke-width="0.7"/>
<ellipse cx="710.3" cy="754.7" rx="6.5" ry="13" fill="none" stroke="#444" stroke-width="1" stroke-dasharray="2.6 2.2"/>
<circle cx="713.5" cy="746.2" r="0.9" fill="#222"/><circle cx="713.5" cy="763.2" r="0.9" fill="#222"/>
<rect x="698" y="795.2" width="50.299999999999955" height="5.6" fill="#2b2b2b"/>
<line x1="698" y1="797.2" x2="748.3" y2="797.2" stroke="#8a8a8a" stroke-width="0.9" stroke-dasharray="1.5 1.2"/>
<rect x="692" y="792.3" width="6" height="11.4" fill="#353535"/>
<rect x="692" y="801" width="6" height="2.6" fill="#999"/>
<rect x="709.8" y="788.5" width="4.4" height="19" fill="#d6d6d6" stroke="#8a8a8a" stroke-width="0.7"/>
<ellipse cx="710.3" cy="798" rx="6.5" ry="13" fill="none" stroke="#444" stroke-width="1" stroke-dasharray="2.6 2.2"/>
<circle cx="713.5" cy="789.5" r="0.9" fill="#222"/><circle cx="713.5" cy="806.5" r="0.9" fill="#222"/>
<rect x="126.1" y="1091.7" width="174.40" height="112.50" stroke="#111" stroke-width="2.3" fill="none"/>
<text x="208.1" y="1152" font-size="17.5" font-weight="normal" text-anchor="middle" fill="#111" >4</text>
<rect x="318.1" y="1073.7" width="26.20" height="133.10" stroke="#111" stroke-width="2.2" fill="none"/>
<text x="331.4" y="1142.9" font-size="17.5" font-weight="normal" text-anchor="middle" fill="#111" >3</text>
<rect x="314" y="1104.4" width="8" height="10" fill="#fff"/>
<path d="M312.6,1104.9 L323.6,1113.9 M312.6,1113.9 L323.6,1104.9" stroke="#111" stroke-width="1.6" fill="none"/>
<rect x="314" y="1148.2" width="8" height="10" fill="#fff"/>
<path d="M312.6,1148.7 L323.6,1157.7 M312.6,1157.7 L323.6,1148.7" stroke="#111" stroke-width="1.6" fill="none"/>
<rect x="381.1" y="1075.6" width="77.60" height="132.00" stroke="#111" stroke-width="3.8" fill="none"/>
<text x="430.5" y="1148" font-size="16.5" font-weight="bold" text-anchor="middle" fill="#111" >3</text>
<path d="M395.9,1105.1 L406.9,1114.1 M395.9,1114.1 L406.9,1105.1" stroke="#111" stroke-width="1.6" fill="none"/>
<path d="M397.15,1128.25 L405.65,1134.5500000000002 M397.15,1134.5500000000002 L405.65,1128.25" stroke="#9a5f58" stroke-width="1.4" fill="none"/>
<path d="M395.9,1151.1 L406.9,1160.1 M395.9,1160.1 L406.9,1151.1" stroke="#111" stroke-width="1.6" fill="none"/>
<path d="M397.15,1176.35 L405.65,1182.65 M397.15,1182.65 L405.65,1176.35" stroke="#9a5f58" stroke-width="1.4" fill="none"/>
<rect x="241.2" y="1107.4" width="49.400000000000034" height="5.6" fill="#2b2b2b"/>
<line x1="241.2" y1="1109.4" x2="290.6" y2="1109.4" stroke="#8a8a8a" stroke-width="0.9" stroke-dasharray="1.5 1.2"/>
<rect x="235.2" y="1104.5" width="6" height="11.4" fill="#353535"/>
<rect x="235.2" y="1113.2" width="6" height="2.6" fill="#999"/>
<rect x="251.3" y="1100.7" width="4.4" height="19" fill="#d6d6d6" stroke="#8a8a8a" stroke-width="0.7"/>
<ellipse cx="252" cy="1110.2" rx="6.5" ry="13" fill="none" stroke="#444" stroke-width="1" stroke-dasharray="2.6 2.2"/>
<circle cx="255.0" cy="1101.7" r="0.9" fill="#222"/><circle cx="255.0" cy="1118.7" r="0.9" fill="#222"/>
<rect x="241.2" y="1151.1000000000001" width="49.400000000000034" height="5.6" fill="#2b2b2b"/>
<line x1="241.2" y1="1153.1000000000001" x2="290.6" y2="1153.1000000000001" stroke="#8a8a8a" stroke-width="0.9" stroke-dasharray="1.5 1.2"/>
<rect x="235.2" y="1148.2" width="6" height="11.4" fill="#353535"/>
<rect x="235.2" y="1156.9" width="6" height="2.6" fill="#999"/>
<rect x="251.3" y="1144.4" width="4.4" height="19" fill="#d6d6d6" stroke="#8a8a8a" stroke-width="0.7"/>
<ellipse cx="252" cy="1153.9" rx="6.5" ry="13" fill="none" stroke="#444" stroke-width="1" stroke-dasharray="2.6 2.2"/>
<circle cx="255.0" cy="1145.4" r="0.9" fill="#222"/><circle cx="255.0" cy="1162.4" r="0.9" fill="#222"/>
<line x1="270.5" y1="1165.6" x2="231.9" y2="1251.8" stroke="#111" stroke-width="2" />
<circle cx="262.8" cy="1323" r="76" stroke="#111" stroke-width="1.9" fill="#fff"/>
<circle cx="270" cy="1283.9" r="18.4" stroke="#111" stroke-width="1.5" fill="#fff"/>
<text transform="translate(270,1294.77) scale(0.85,1)" font-size="31.5" text-anchor="middle" fill="#111">D</text>
<circle cx="274.9" cy="1369.6" r="18.4" stroke="#111" stroke-width="1.5" fill="#fff"/>
<text transform="translate(274.9,1380.47) scale(0.85,1)" font-size="31.5" text-anchor="middle" fill="#111">E</text>
<line x1="272.8" y1="1302.3" x2="281.3" y2="1315.8" stroke="#111" stroke-width="1.5" />
<line x1="289.8" y1="1357.6" x2="312.4" y2="1347.7" stroke="#111" stroke-width="1.5" />
<rect x="259.3" y="1321.1" width="47.5" height="7" fill="#2e2e2e"/>
<line x1="259.3" y1="1323.6" x2="306.8" y2="1323.6" stroke="#999" stroke-width="0.9" stroke-dasharray="1.5 1.2"/>
<rect x="256.3" y="1316.8" width="6.3" height="15.6" fill="#3a3a3a"/>
<g transform="translate(317,1324.6)"><path d="M0,-21.5 L6,-21.5 C10,-21.5 12,-10 12,0 C12,10 10,21.5 6,21.5 L0,21.5 Z" fill="#c8c8c8" stroke="#444" stroke-width="1"/><ellipse cx="0" cy="0" rx="6" ry="21.5" fill="#e4e4e4" stroke="#444" stroke-width="1.1"/><ellipse cx="0.5" cy="0" rx="3" ry="9" fill="#bbb" stroke="#555" stroke-width="0.8"/><ellipse cx="0.5" cy="0" rx="1.2" ry="5" fill="#333"/></g>
<g transform="translate(242.7,1326.4)"><path d="M4,-19 C9,-15 10,-6 10,0 C10,7 8,15 4,19.5" fill="none" stroke="#1a1a1a" stroke-width="2.2"/><path d="M4,-19 C-2,-20 -8,-14 -10,-8 L-8,-2 L-4,-3 L0,-11 Z" fill="#fff" stroke="#333" stroke-width="1"/><path d="M-10,4 L1,5 L-1,8 L4,19.5 C-2,20 -8,16 -10,9 Z" fill="#fff" stroke="#333" stroke-width="1"/></g>
<path transform="translate(219.7,1326.3)" d="M-26.2,-5.9 L-18.4,-6.7 C-16,-10 -15,-15 -13.5,-17.3 L-7.8,-19 L8.5,-12.3 L9.9,-10.2 L-5,-9.5 C-8,-8 -9.2,-6 -9.2,-4.5 L-9.2,6.8 C-9.2,8 -7,9.6 -5,9.6 L9.2,11 L7.1,13.2 L-10.6,15.3 C-13,13 -15,9 -17,7.5 L-26.2,6" fill="#fff" stroke="#2a2a2a" stroke-width="1.2"/>
<text x="199.1" y="1330" font-size="7.5" font-weight="bold" text-anchor="middle" fill="#111" >10</text>
<rect x="628.3" y="1073.3" width="77.70" height="133.40" stroke="#111" stroke-width="3.8" fill="none"/>
<text x="653.3" y="1141" font-size="16.5" font-weight="bold" text-anchor="middle" fill="#111" >3</text>
<path d="M678.75,1104.05 L691.25,1112.55 M678.75,1112.55 L691.25,1104.05" stroke="#b46a5c" stroke-width="1.3" fill="none"/>
<path d="M680.5,1130.5 L689.5,1137.5 M680.5,1137.5 L689.5,1130.5" stroke="#111" stroke-width="1.9" fill="none"/>
<path d="M678.75,1150.75 L691.25,1159.25 M678.75,1159.25 L691.25,1150.75" stroke="#b46a5c" stroke-width="1.3" fill="none"/>
<path d="M680.5,1174.8 L689.5,1181.8 M680.5,1181.8 L689.5,1174.8" stroke="#111" stroke-width="1.9" fill="none"/>
<rect x="742.7" y="1073.3" width="25.60" height="132.70" stroke="#111" stroke-width="2.2" fill="none"/>
<text x="756" y="1141" font-size="17" font-weight="normal" text-anchor="middle" fill="#111" >3</text>
<rect x="765.5" y="1104.3" width="5" height="10" fill="#fff"/>
<path d="M762.05,1105.05 L774.55,1113.55 M762.05,1113.55 L774.55,1105.05" stroke="#b46a5c" stroke-width="1.3" fill="none"/>
<rect x="765.5" y="1151" width="5" height="10" fill="#fff"/>
<path d="M762.05,1151.75 L774.55,1160.25 M762.05,1160.25 L774.55,1151.75" stroke="#b46a5c" stroke-width="1.3" fill="none"/>
<rect x="785.7" y="1092.3" width="175.00" height="111.70" stroke="#111" stroke-width="2.3" fill="none"/>
<text x="867.7" y="1152" font-size="17" font-weight="normal" text-anchor="middle" fill="#111" >4</text>
<rect x="796.7" y="1107.2" width="50.59999999999991" height="5.6" fill="#2b2b2b"/>
<line x1="796.7" y1="1109.2" x2="847.3" y2="1109.2" stroke="#8a8a8a" stroke-width="0.9" stroke-dasharray="1.5 1.2"/>
<rect x="847.3" y="1104.3" width="6" height="11.4" fill="#353535"/>
<rect x="847.3" y="1113" width="6" height="2.6" fill="#999"/>
<rect x="829.8" y="1100.5" width="4.4" height="19" fill="#d6d6d6" stroke="#8a8a8a" stroke-width="0.7"/>
<ellipse cx="835.8" cy="1110" rx="6.5" ry="13" fill="none" stroke="#444" stroke-width="1" stroke-dasharray="2.6 2.2"/>
<circle cx="833.5" cy="1101.5" r="0.9" fill="#222"/><circle cx="833.5" cy="1118.5" r="0.9" fill="#222"/>
<rect x="796.7" y="1151.2" width="50.59999999999991" height="5.6" fill="#2b2b2b"/>
<line x1="796.7" y1="1153.2" x2="847.3" y2="1153.2" stroke="#8a8a8a" stroke-width="0.9" stroke-dasharray="1.5 1.2"/>
<rect x="847.3" y="1148.3" width="6" height="11.4" fill="#353535"/>
<rect x="847.3" y="1157" width="6" height="2.6" fill="#999"/>
<rect x="829.8" y="1144.5" width="4.4" height="19" fill="#d6d6d6" stroke="#8a8a8a" stroke-width="0.7"/>
<ellipse cx="835.8" cy="1154" rx="6.5" ry="13" fill="none" stroke="#444" stroke-width="1" stroke-dasharray="2.6 2.2"/>
<circle cx="833.5" cy="1145.5" r="0.9" fill="#222"/><circle cx="833.5" cy="1162.5" r="0.9" fill="#222"/>
<line x1="810" y1="1163.3" x2="845" y2="1246.7" stroke="#111" stroke-width="2" />
<circle cx="851.8" cy="1322.9" r="75.6" stroke="#111" stroke-width="1.9" fill="#fff"/>
<circle cx="845.1" cy="1283.9" r="18.4" stroke="#111" stroke-width="1.5" fill="#fff"/>
<text transform="translate(845.1,1294.77) scale(0.85,1)" font-size="31.5" text-anchor="middle" fill="#111">D</text>
<circle cx="840.5" cy="1370" r="18.4" stroke="#111" stroke-width="1.5" fill="#fff"/>
<text transform="translate(840.5,1380.87) scale(0.85,1)" font-size="31.5" text-anchor="middle" fill="#111">E</text>
<line x1="833" y1="1316.5" x2="841.5" y2="1303" stroke="#111" stroke-width="1.5" />
<line x1="802.6" y1="1347.6" x2="824.5" y2="1358.3" stroke="#111" stroke-width="1.5" />
<rect x="807.5" y="1321.0" width="47.799999999999955" height="7" fill="#2e2e2e"/>
<line x1="807.5" y1="1323.5" x2="855.3" y2="1323.5" stroke="#999" stroke-width="0.9" stroke-dasharray="1.5 1.2"/>
<rect x="852.3" y="1316.7" width="6.3" height="15.6" fill="#3a3a3a"/>
<g transform="translate(796.9,1324.3) scale(-1,1)"><path d="M0,-21.5 L6,-21.5 C10,-21.5 12,-10 12,0 C12,10 10,21.5 6,21.5 L0,21.5 Z" fill="#c8c8c8" stroke="#444" stroke-width="1"/><ellipse cx="0" cy="0" rx="6" ry="21.5" fill="#e4e4e4" stroke="#444" stroke-width="1.1"/><ellipse cx="0.5" cy="0" rx="3" ry="9" fill="#bbb" stroke="#555" stroke-width="0.8"/><ellipse cx="0.5" cy="0" rx="1.2" ry="5" fill="#333"/></g>
<g transform="translate(873.4,1326.7)"><path d="M4,-19 C9,-15 10,-6 10,0 C10,7 8,15 4,19.5" fill="none" stroke="#1a1a1a" stroke-width="2.2"/><path d="M4,-19 C-2,-20 -8,-14 -10,-8 L-8,-2 L-4,-3 L0,-11 Z" fill="#fff" stroke="#333" stroke-width="1"/><path d="M-10,4 L1,5 L-1,8 L4,19.5 C-2,20 -8,16 -10,9 Z" fill="#fff" stroke="#333" stroke-width="1"/></g>
<path transform="translate(895.4,1326.3) scale(-1,1)" d="M-26.2,-5.9 L-18.4,-6.7 C-16,-10 -15,-15 -13.5,-17.3 L-7.8,-19 L8.5,-12.3 L9.9,-10.2 L-5,-9.5 C-8,-8 -9.2,-6 -9.2,-4.5 L-9.2,6.8 C-9.2,8 -7,9.6 -5,9.6 L9.2,11 L7.1,13.2 L-10.6,15.3 C-13,13 -15,9 -17,7.5 L-26.2,6" fill="#fff" stroke="#2a2a2a" stroke-width="1.2"/>
<text x="913.8" y="1330.5" font-size="7.5" font-weight="bold" text-anchor="middle" fill="#111" >10</text>
</svg></body></html>
